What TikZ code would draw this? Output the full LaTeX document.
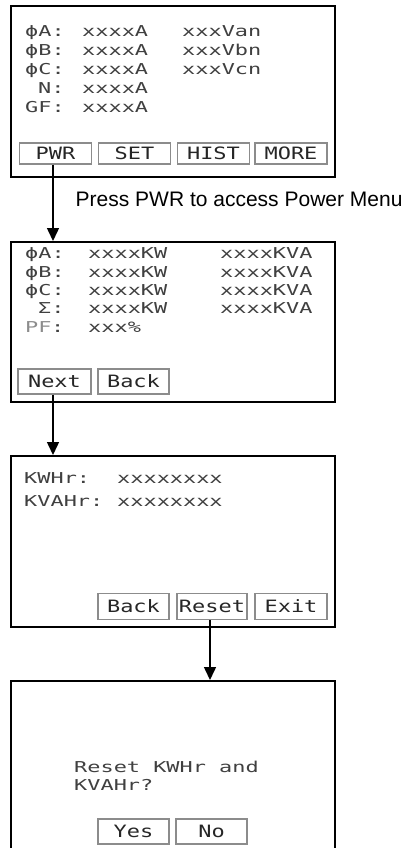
\documentclass[tikz,border=0pt]{standalone}
\usepackage{fontspec}
\setmainfont{Liberation Sans}
\newfontfamily\lcd[FakeStretch=1.46]{DejaVu Sans Mono}
\newfontfamily\lcdbtn[FakeStretch=1.29]{DejaVu Sans Mono}
\usetikzlibrary{arrows.meta}
\tikzset{
  screen/.style={draw=black, line width=2pt, rectangle, inner sep=0, minimum width=324pt},
  btn/.style={draw=black!45, line width=1.2pt, rectangle, inner sep=0, minimum width=72pt,
              font=\lcdbtn\fontsize{17}{20}\selectfont, text=black!85},
  lcdtxt/.style={anchor=base west, inner sep=0, font=\lcd\fontsize{15}{18}\selectfont, text=black!75},
  pftxt/.style={lcdtxt, text=black!45},
  flow/.style={draw=black, line width=1.5pt, -{Triangle[width=12pt,length=13pt]}},
  caption/.style={anchor=base west, inner sep=0, font=\fontsize{21}{25}\selectfont}
}
\begin{document}
\begin{tikzpicture}[x=1pt,y=-1pt]
\useasboundingbox (0,0) rectangle (407,848);
% screens
\node[screen, minimum height=171pt] (s1) at (173,91.5) {};
\node[screen, minimum height=160pt] (s2) at (173,322) {};
\node[screen, minimum height=171pt] (s3) at (173,541.5) {};
\node[screen, minimum height=169pt] (s4) at (173,765.5) {};

% screen 1
\node[lcdtxt] (a1) at (25,37) {ϕA:};
\node[lcdtxt] (a2) at (82,37) {xxxxA};
\node[lcdtxt] (a3) at (182,37) {xxxVan};
\node[lcdtxt] (b1) at (25,56) {ϕB:};
\node[lcdtxt] (b2) at (82,56) {xxxxA};
\node[lcdtxt] (b3) at (182,56) {xxxVbn};
\node[lcdtxt] (c1) at (25,75) {ϕC:};
\node[lcdtxt] (c2) at (82,75) {xxxxA};
\node[lcdtxt] (c3) at (182,75) {xxxVcn};
\node[lcdtxt] (n1) at (38,94) {N:};
\node[lcdtxt] (n2) at (82,94) {xxxxA};
\node[lcdtxt] (g1) at (25,113) {GF:};
\node[lcdtxt] (g2) at (82,113) {xxxxA};
\node[btn, minimum height=21pt] (pwr) at (55.5,153.5) {PWR};
\node[btn, minimum height=21pt] (set) at (134.5,153.5) {SET};
\node[btn, minimum height=21pt] (hist) at (213.5,153.5) {HIST};
\node[btn, minimum height=21pt] (more) at (291,153.5) {MORE};

\node[caption] (cap) at (75.5,206) {Press PWR to access Power Menu};

% screen 2
\node[lcdtxt] (pa1) at (25,258) {ϕA:};
\node[lcdtxt] (pa2) at (88,258) {xxxxKW};
\node[lcdtxt] (pa3) at (220,258) {xxxxKVA};
\node[lcdtxt] (pb1) at (25,277) {ϕB:};
\node[lcdtxt] (pb2) at (88,277) {xxxxKW};
\node[lcdtxt] (pb3) at (220,277) {xxxxKVA};
\node[lcdtxt] (pc1) at (25,295) {ϕC:};
\node[lcdtxt] (pc2) at (88,295) {xxxxKW};
\node[lcdtxt] (pc3) at (220,295) {xxxxKVA};
\node[lcdtxt] (ps1) at (38,313) {Σ:};
\node[lcdtxt] (ps2) at (88,313) {xxxxKW};
\node[lcdtxt] (ps3) at (220,313) {xxxxKVA};
\node[pftxt] (pf1) at (25,332) {PF};
\node[lcdtxt] (pf0) at (51,332) {:};
\node[lcdtxt] (pf2) at (88,332) {xxx\%};
\node[btn, minimum height=25pt, minimum width=73pt] (next) at (54.5,381.5) {Next};
\node[btn, minimum height=25pt, minimum width=71pt] (back2) at (133.5,381.5) {Back};

% screen 3
\node[lcdtxt] (kw1) at (24,483) {KWHr:};
\node[lcdtxt] (kw2) at (117,483) {xxxxxxxx};
\node[lcdtxt] (kv1) at (24,506) {KVAHr:};
\node[lcdtxt] (kv2) at (117,506) {xxxxxxxx};
\node[btn, minimum height=26pt, minimum width=71pt] (back3) at (133.5,606.5) {Back};
\node[btn, minimum height=26pt, minimum width=70pt] (reset) at (212,606.5) {Reset};
\node[btn, minimum height=26pt, minimum width=72pt] (exit) at (291,606.5) {Exit};

% screen 4
\node[lcdtxt] (q1) at (74,772) {Reset KWHr and};
\node[lcdtxt] (q2) at (74,790) {KVAHr?};
\node[btn, minimum height=25pt, minimum width=71pt] (yes) at (133.5,831.5) {Yes};
\node[btn, minimum height=25pt, minimum width=71pt] (no) at (211.5,831.5) {No};

% connectors
\draw[flow] ([xshift=-2.5pt]pwr.south) -- ([xshift=-2.5pt]pwr.south |- s2.north);
\draw[flow] ([xshift=-1.5pt]next.south) -- ([xshift=-1.5pt]next.south |- s3.north);
\draw[flow] ([xshift=-2pt]reset.south) -- ([xshift=-2pt]reset.south |- s4.north);
\end{tikzpicture}
\end{document}
